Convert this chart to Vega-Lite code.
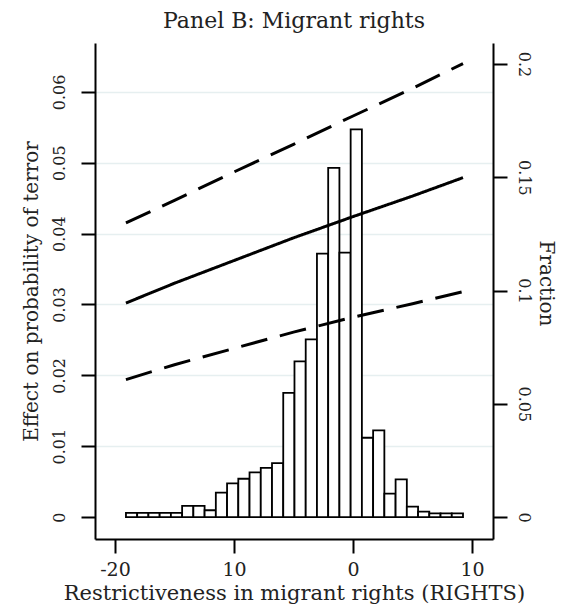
{
  "$schema": "https://vega.github.io/schema/vega-lite/v6.json",
  "width": 398,
  "height": 496,
  "autosize": {"type": "none"},
  "padding": {"left": 95, "top": 43, "right": 71, "bottom": 76},
  "background": "white",
  "title": {"text": "Panel B: Migrant rights", "font": "DejaVu Serif", "fontSize": 22, "fontWeight": "normal", "color": "#222222", "offset": 10},
  "config": {
    "view": {"stroke": null},
    "axis": {"labelFont": "DejaVu Serif", "titleFont": "DejaVu Serif", "labelColor": "#222222", "titleColor": "#222222", "titleFontWeight": "normal", "domainColor": "#000000", "tickColor": "#000000", "domainWidth": 2, "tickWidth": 2, "tickSize": 14}
  },
  "datasets": {
    "hist": [
      {"lo": -19.080, "hi": -18.136, "frac": 0.0018},
      {"lo": -18.136, "hi": -17.192, "frac": 0.0018},
      {"lo": -17.192, "hi": -16.248, "frac": 0.0018},
      {"lo": -16.248, "hi": -15.304, "frac": 0.0018},
      {"lo": -15.304, "hi": -14.360, "frac": 0.0018},
      {"lo": -14.360, "hi": -13.416, "frac": 0.0049},
      {"lo": -13.416, "hi": -12.472, "frac": 0.0049},
      {"lo": -12.472, "hi": -11.528, "frac": 0.0030},
      {"lo": -11.528, "hi": -10.584, "frac": 0.0108},
      {"lo": -10.584, "hi": -9.640, "frac": 0.0149},
      {"lo": -9.640, "hi": -8.696, "frac": 0.0169},
      {"lo": -8.696, "hi": -7.752, "frac": 0.0197},
      {"lo": -7.752, "hi": -6.808, "frac": 0.0217},
      {"lo": -6.808, "hi": -5.864, "frac": 0.0238},
      {"lo": -5.864, "hi": -4.920, "frac": 0.0548},
      {"lo": -4.920, "hi": -3.976, "frac": 0.0687},
      {"lo": -3.976, "hi": -3.032, "frac": 0.0784},
      {"lo": -3.032, "hi": -2.088, "frac": 0.1163},
      {"lo": -2.088, "hi": -1.144, "frac": 0.1542},
      {"lo": -1.144, "hi": -0.200, "frac": 0.1167},
      {"lo": -0.200, "hi": 0.744, "frac": 0.1712},
      {"lo": 0.744, "hi": 1.688, "frac": 0.0350},
      {"lo": 1.688, "hi": 2.632, "frac": 0.0383},
      {"lo": 2.632, "hi": 3.576, "frac": 0.0103},
      {"lo": 3.576, "hi": 4.520, "frac": 0.0166},
      {"lo": 4.520, "hi": 5.464, "frac": 0.0046},
      {"lo": 5.464, "hi": 6.408, "frac": 0.0024},
      {"lo": 6.408, "hi": 7.352, "frac": 0.0016},
      {"lo": 7.352, "hi": 8.296, "frac": 0.0016},
      {"lo": 8.296, "hi": 9.240, "frac": 0.0016}
    ],
    "effect": [
      {"x": -19.08, "series": "est", "v": 0.0302},
      {"x": -15, "series": "est", "v": 0.0330},
      {"x": -10, "series": "est", "v": 0.0362},
      {"x": -5, "series": "est", "v": 0.0394},
      {"x": 0, "series": "est", "v": 0.0424},
      {"x": 5, "series": "est", "v": 0.0453},
      {"x": 9.24, "series": "est", "v": 0.0479},
      {"x": -19.08, "series": "upper", "v": 0.0415},
      {"x": -15, "series": "upper", "v": 0.0447},
      {"x": -10, "series": "upper", "v": 0.0487},
      {"x": -5, "series": "upper", "v": 0.0526},
      {"x": 0, "series": "upper", "v": 0.0566},
      {"x": 5, "series": "upper", "v": 0.0605},
      {"x": 9.24, "series": "upper", "v": 0.0640},
      {"x": -19.08, "series": "lower", "v": 0.0194},
      {"x": -15, "series": "lower", "v": 0.0215},
      {"x": -10, "series": "lower", "v": 0.0238},
      {"x": -5, "series": "lower", "v": 0.0261},
      {"x": 0, "series": "lower", "v": 0.0282},
      {"x": 5, "series": "lower", "v": 0.0301},
      {"x": 9.24, "series": "lower", "v": 0.0318}
    ]
  },
  "layer": [
    {
      "data": {"name": "hist"},
      "mark": {"type": "rect", "fill": "white", "stroke": "#000000", "strokeWidth": 1.8},
      "encoding": {
        "x": {"field": "lo", "type": "quantitative", "scale": {"domain": [-21.68, 11.76], "nice": false, "zero": false},
          "axis": {"orient": "bottom", "values": [-20, -10, 0, 10], "labelExpr": "datum.value == -20 ? '-20' : datum.value == -10 ? '10' : format(datum.value, 'd')", "labelFontSize": 19, "labelPadding": 7, "title": "Restrictiveness in migrant rights (RIGHTS)", "titleFontSize": 21, "titlePadding": 3, "grid": false}},
        "x2": {"field": "hi"},
        "y": {"field": "frac", "type": "quantitative", "scale": {"domain": [-0.0097, 0.2093], "nice": false, "zero": false},
          "axis": {"orient": "right", "values": [0, 0.05, 0.1, 0.15, 0.2], "format": "~g", "labelAngle": 90, "labelFontSize": 16, "labelPadding": 8, "title": "Fraction", "titleFontSize": 20, "titlePadding": 4, "titleY": 240, "grid": false}},
        "y2": {"datum": 0}
      }
    },
    {
      "data": {"name": "effect"},
      "mark": {"type": "line", "color": "#000000", "strokeWidth": 3, "strokeCap": "butt"},
      "encoding": {
        "x": {"field": "x", "type": "quantitative"},
        "y": {"field": "v", "type": "quantitative", "scale": {"domain": [-0.0031, 0.0669], "nice": false, "zero": false},
          "axis": {"orient": "left", "values": [0, 0.01, 0.02, 0.03, 0.04, 0.05, 0.06], "format": "~g", "labelAngle": -90, "labelFontSize": 16, "labelPadding": 14, "title": "Effect on probability of terror", "titleFontSize": 20, "titlePadding": 10, "grid": true, "gridColor": "#e6eff0", "gridWidth": 1.5, "gridOpacity": {"condition": {"test": "datum.value === 0", "value": 0}, "value": 1}}},
        "detail": {"field": "series"},
        "strokeDash": {"field": "series", "type": "nominal", "scale": {"domain": ["est", "upper", "lower"], "range": [[1, 0], [27, 13], [27, 13]]}, "legend": null}
      }
    }
  ],
  "resolve": {"scale": {"y": "independent"}}
}
